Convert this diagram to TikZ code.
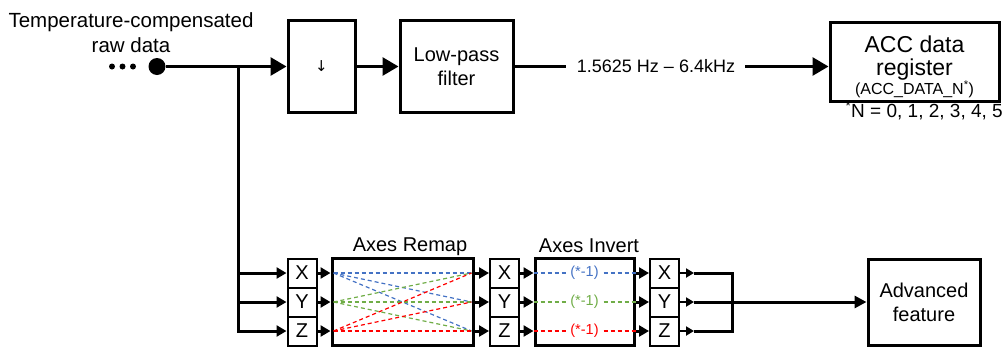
\documentclass[tikz,border=0pt]{standalone}
\usepackage{fontspec}
\setmainfont{Liberation Sans}
\newfontfamily\symfont{DejaVu Sans}
\usetikzlibrary{arrows.meta}
\definecolor{axblue}{HTML}{4472C4}
\definecolor{axgreen}{HTML}{70AD47}
\definecolor{axred}{HTML}{FF0000}
\begin{document}
\begin{tikzpicture}[x=1pt,y=-1pt,
  bigbox/.style={draw,line width=3pt,inner sep=0pt,align=center,font=\fontsize{20}{24}\selectfont},
  axbox/.style={draw,line width=2pt,minimum width=29pt,minimum height=29pt,inner sep=0pt,font=\fontsize{20}{24}\selectfont},
  mainline/.style={line width=3pt},
  bigarrow/.style={line width=3pt,-{Triangle[length=16pt,width=18pt]}},
  smallarrow/.style={line width=3pt,-{Triangle[length=10pt,width=11pt]}},
  tinyarrow/.style={line width=2.5pt,-{Triangle[length=8pt,width=9pt]}},
  advarrow/.style={line width=3pt,-{Triangle[length=12pt,width=12pt]}},
  dline/.style={line width=1.2pt,dash pattern=on 4pt off 3pt},
  txt/.style={inner sep=0pt,anchor=base,font=\fontsize{20}{24}\selectfont},
  dotnode/.style={circle,fill,inner sep=0pt},
  invlabel/.style={fill=white,inner sep=2pt,font=\fontsize{14.5}{16}\selectfont},
]
\useasboundingbox (0,0) rectangle (1005,346);

% input label and source
\node[txt,font=\fontsize{20.5}{24}\selectfont] (lbla) at (131,27) {Temperature-compensated};
\node[txt,font=\fontsize{20.5}{24}\selectfont] (lblb) at (131,52) {raw data};
\node[dotnode,minimum size=6pt] (d1) at (112,66.5) {};
\node[dotnode,minimum size=6pt] (d2) at (122.5,66.5) {};
\node[dotnode,minimum size=6pt] (d3) at (133,66.5) {};
\node[dotnode,minimum size=17pt] (src) at (157,66.5) {};

% top chain
\node[bigbox,minimum width=67pt,minimum height=92pt] (ds) at (321.5,66.5) {\symfont\fontsize{15}{18}\selectfont ↓};
\node[bigbox,minimum width=113pt,minimum height=92pt] (lpf) at (456.5,66.5) {Low-pass\\filter};
\node[txt,font=\fontsize{18}{22}\selectfont] (freq) at (656,72) {1.5625 Hz – 6.4kHz};
\node[bigbox,minimum width=169pt,minimum height=79pt] (acc) at (914.5,61.5) {};
\node[txt,font=\fontsize{23}{26}\selectfont] (acca) at (914.5,52) {ACC data};
\node[txt,font=\fontsize{23}{26}\selectfont] (accb) at (914.5,75) {register};
\node[txt,font=\fontsize{16}{18}\selectfont] (accc) at (914.5,94.5) {(ACC\_DATA\_N\textsuperscript{*})};
\node[txt,anchor=base east,font=\fontsize{19}{22}\selectfont] (note) at (1003,117) {\textsuperscript{*}N = 0, 1, 2, 3, 4, 5};

\draw[bigarrow] (src) -- (ds.west);
\draw[bigarrow] (ds.east) -- (lpf.west);
\draw[mainline] (lpf.east) -- ([xshift=-11pt]freq.west |- lpf.east);
\draw[bigarrow] ([xshift=10pt]freq.east |- src) -- (acc.west |- src);

% bottom chain
\coordinate (br) at (238,66.5);
\node[axbox] (x1) at (302,273) {X};
\node[axbox] (y1) at (302,302) {Y};
\node[axbox] (z1) at (302,331) {Z};
\draw[smallarrow] (br) |- (z1.west);
\draw[smallarrow] (br |- x1) -- (x1.west);
\draw[smallarrow] (br |- y1) -- (y1.west);

\node[bigbox,minimum width=141pt,minimum height=87pt] (remap) at (402.5,302) {};
\node[txt] (remapt) at (410,251) {Axes Remap};
\draw[smallarrow] (x1.east) -- (remap.west |- x1);
\draw[smallarrow] (y1.east) -- (remap.west |- y1);
\draw[smallarrow] (z1.east) -- (remap.west |- z1);

\coordinate (rl1) at ([xshift=3pt]remap.west |- x1);
\coordinate (rl2) at ([xshift=3pt]remap.west |- y1);
\coordinate (rl3) at ([xshift=3pt]remap.west |- z1);
\coordinate (rr1) at ([xshift=-3pt]remap.east |- x1);
\coordinate (rr2) at ([xshift=-3pt]remap.east |- y1);
\coordinate (rr3) at ([xshift=-3pt]remap.east |- z1);
\foreach \i/\c in {1/axblue,2/axgreen,3/axred}
  \foreach \j in {1,2,3}
    \draw[dline,\c] (rl\i) -- (rr\j);

\node[axbox] (x2) at (504.5,273) {X};
\node[axbox] (y2) at (504.5,302) {Y};
\node[axbox] (z2) at (504.5,331) {Z};
\draw[smallarrow] (remap.east |- x2) -- (x2.west);
\draw[smallarrow] (remap.east |- y2) -- (y2.west);
\draw[smallarrow] (remap.east |- z2) -- (z2.west);

\node[bigbox,minimum width=99pt,minimum height=87pt] (inv) at (584.5,302) {};
\node[txt] (invt) at (589,252) {Axes Invert};
\draw[smallarrow] (x2.east) -- (inv.west |- x2);
\draw[smallarrow] (y2.east) -- (inv.west |- y2);
\draw[smallarrow] (z2.east) -- (inv.west |- z2);
\draw[dline,axblue] (inv.west |- x2) -- node[invlabel,text=axblue] (m1) {(*-1)} (inv.east |- x2);
\draw[dline,axgreen] (inv.west |- y2) -- node[invlabel,text=axgreen] (m2) {(*-1)} (inv.east |- y2);
\draw[dline,axred] (inv.west |- z2) -- node[invlabel,text=axred] (m3) {(*-1)} (inv.east |- z2);

\node[axbox] (x3) at (664.5,273) {X};
\node[axbox] (y3) at (664.5,302) {Y};
\node[axbox] (z3) at (664.5,331) {Z};
\draw[smallarrow] (inv.east |- x3) -- (x3.west);
\draw[smallarrow] (inv.east |- y3) -- (y3.west);
\draw[smallarrow] (inv.east |- z3) -- (z3.west);

\node[bigbox,minimum width=112pt,minimum height=86pt] (adv) at (924,302) {Advanced\\feature};

\coordinate (o1) at ([xshift=14pt]x3.east);
\coordinate (o2) at ([xshift=14pt]y3.east);
\coordinate (o3) at ([xshift=14pt]z3.east);
\coordinate (jx) at (732,273);
\coordinate (jz) at (732,331);
\draw[tinyarrow] (x3.east) -- (o1);
\draw[tinyarrow] (y3.east) -- (o2);
\draw[tinyarrow] (z3.east) -- (o3);
\draw[mainline] (o1) -- (jx) -- (jz) -- (o3);
\draw[advarrow] (o2) -- (adv.west |- o2);
\end{tikzpicture}
\end{document}
